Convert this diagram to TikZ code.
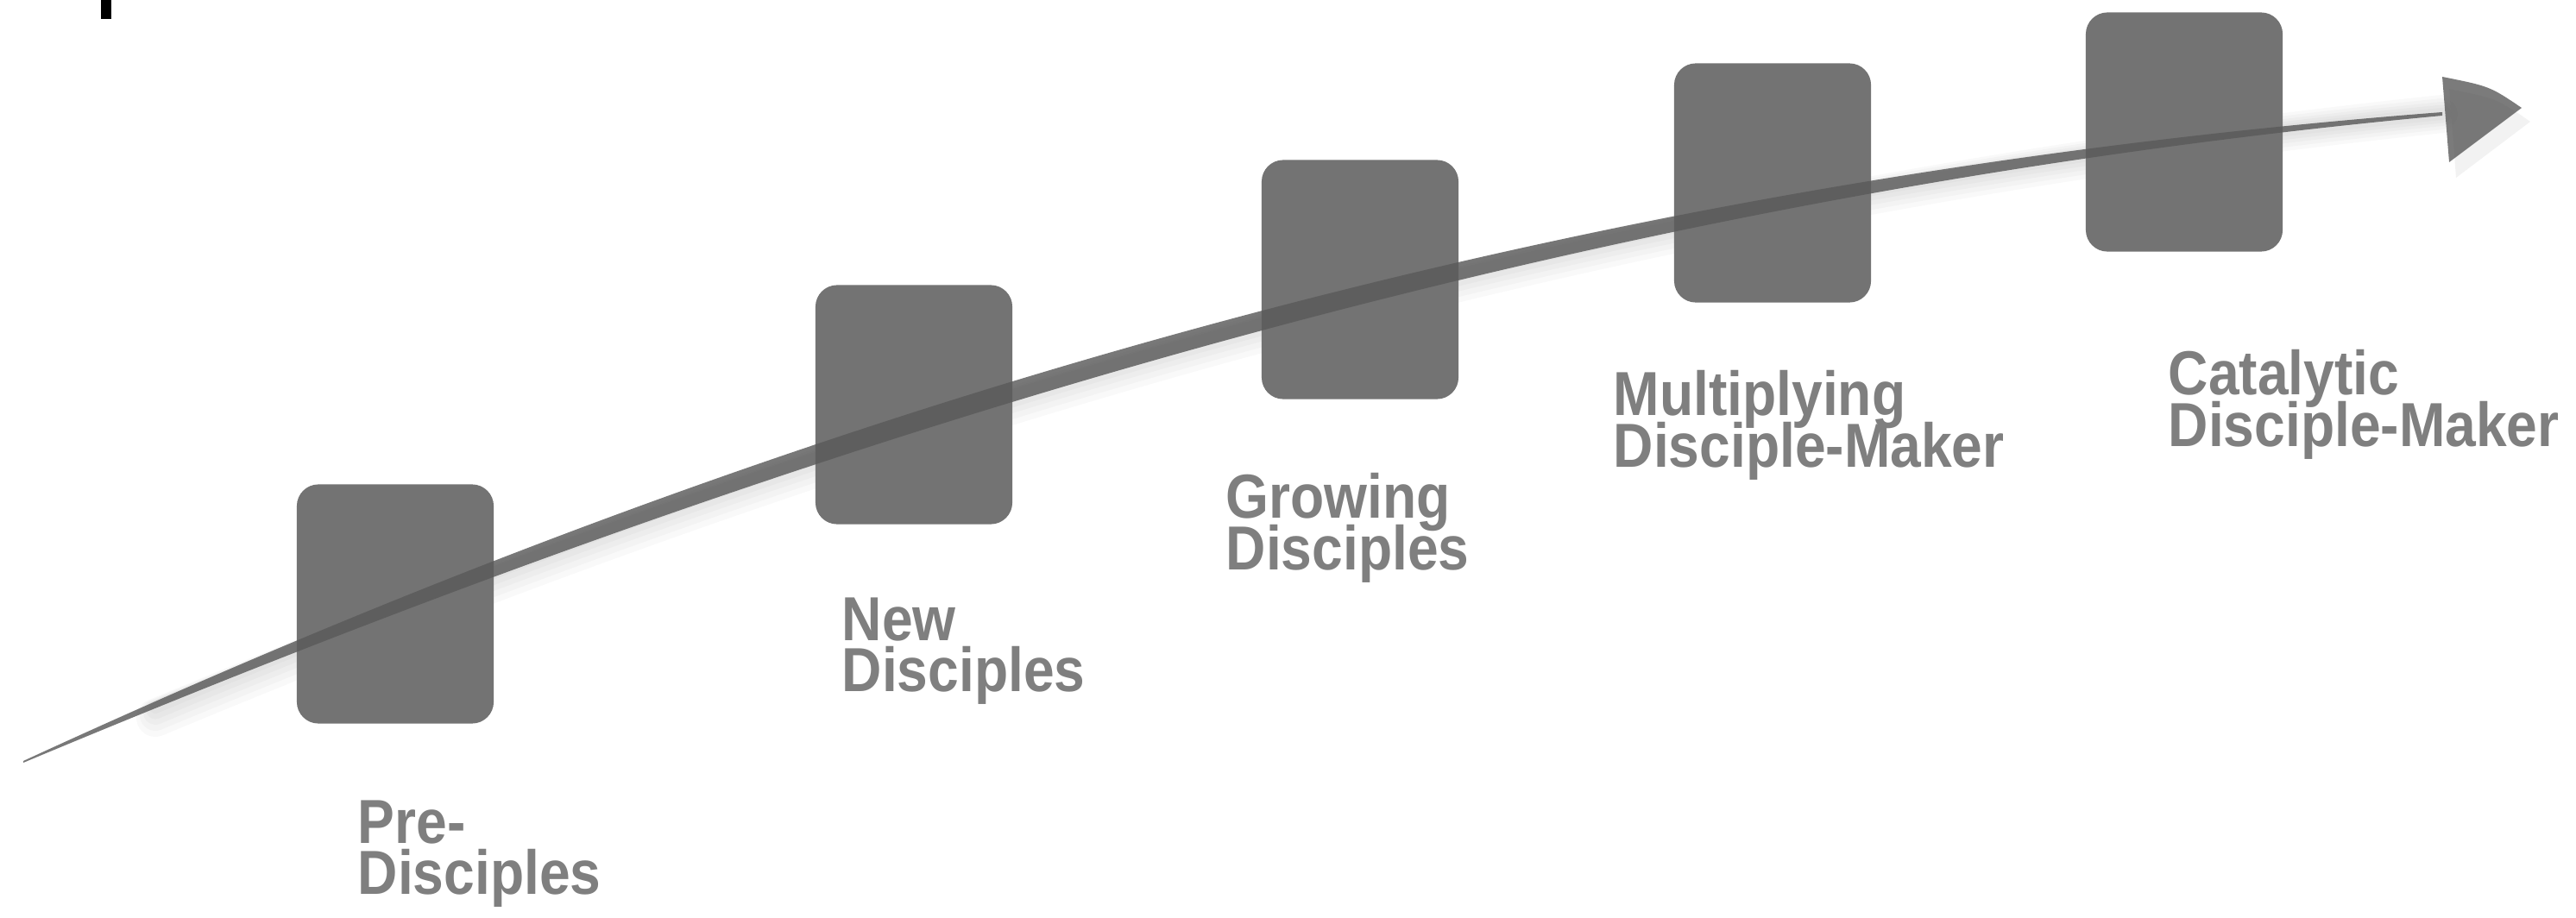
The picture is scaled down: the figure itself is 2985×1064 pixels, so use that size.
\documentclass[tikz,border=0pt]{standalone}
\usepackage{fontspec}
\newfontfamily\stagefont{Liberation Sans}[FakeStretch=0.89]
\usepackage{tikz}
\usetikzlibrary{positioning}

\definecolor{boxgray}{RGB}{115,115,115}
\definecolor{inkgray}{RGB}{90,90,90}
\definecolor{labelgray}{RGB}{127,127,127}
\newcommand{\stagesize}{\fontsize{20.5pt}{16.8pt}\selectfont\lineskiplimit -20pt\relax}

\begin{document}
\begin{tikzpicture}[
    x=0.01cm,
    y=-0.01cm,
    stage/.style={
        fill=boxgray,
        rounded corners=0.25cm,
        minimum width=2.28cm,
        minimum height=2.77cm,
        inner sep=0pt
    },
    stagelabel/.style={
        anchor=north west,
        align=left,
        inner sep=0pt,
        text=labelgray,
        font=\stagefont\bfseries\stagesize
    },
    brush/.style={fill=inkgray, fill opacity=0.82},
    brushshadow/.style={draw=black, line cap=round, draw opacity=0.025}
]
\useasboundingbox (0,0) rectangle (2985,1064);
\fill[black] (117,0) rectangle (129,22);

\coordinate (tail) at (27,883);
\coordinate (head) at (2830,132);

% ============================================================
% SHADOW OF THE STROKE
% ============================================================
\foreach \dy/\w in {-0.20/0.44, -0.17/0.36, -0.14/0.28, -0.11/0.21, -0.08/0.14}
    \draw[brushshadow, line width=\w cm, yshift=\dy cm]
        (180,812) .. controls (1000,470) and (1830,217) .. (head);

% ============================================================
% STAGES
% ============================================================
\node[stage] (pre) at (458,700) {};
\node[stage] (new) at (1059,469) {};
\node[stage] (grow) at (1576,324) {};
\node[stage] (mult) at (2054,212) {};
\node[stage] (cat) at (2531,153) {};

% ============================================================
% BRUSH STROKE AND HEAD
% ============================================================
\fill[brush] ([yshift=0.01cm]tail) .. controls (927,467) and (1830,207) .. (2830,130)
    -- (2830,134) .. controls (1830,227) and (927,507) .. ([yshift=-0.01cm]tail)
    -- cycle;

\fill[black, opacity=0.05] (2838,103)
    .. controls (2893,114) .. (2932,141) -- (2846,206) -- cycle;
\fill[inkgray, fill opacity=0.8] (head |- 0,89)
    .. controls (2885,100) .. (2922,125) -- (2838,188) -- cycle;

% ============================================================
% LABELS
% ============================================================
\node[stagelabel] (prelbl) at (414,927) {Pre-\\Disciples};
\node[stagelabel] (newlbl) at (975,692) {New\\Disciples};
\node[stagelabel] (growlbl) at (1420,548) {Growing\\Disciples};
\node[stagelabel] (multlbl) at (1869,429) {Multiplying\\Disciple-Maker};
\node[stagelabel] (catlbl) at (2512,405) {Catalytic\\Disciple-Maker};

\end{tikzpicture}
\end{document}
